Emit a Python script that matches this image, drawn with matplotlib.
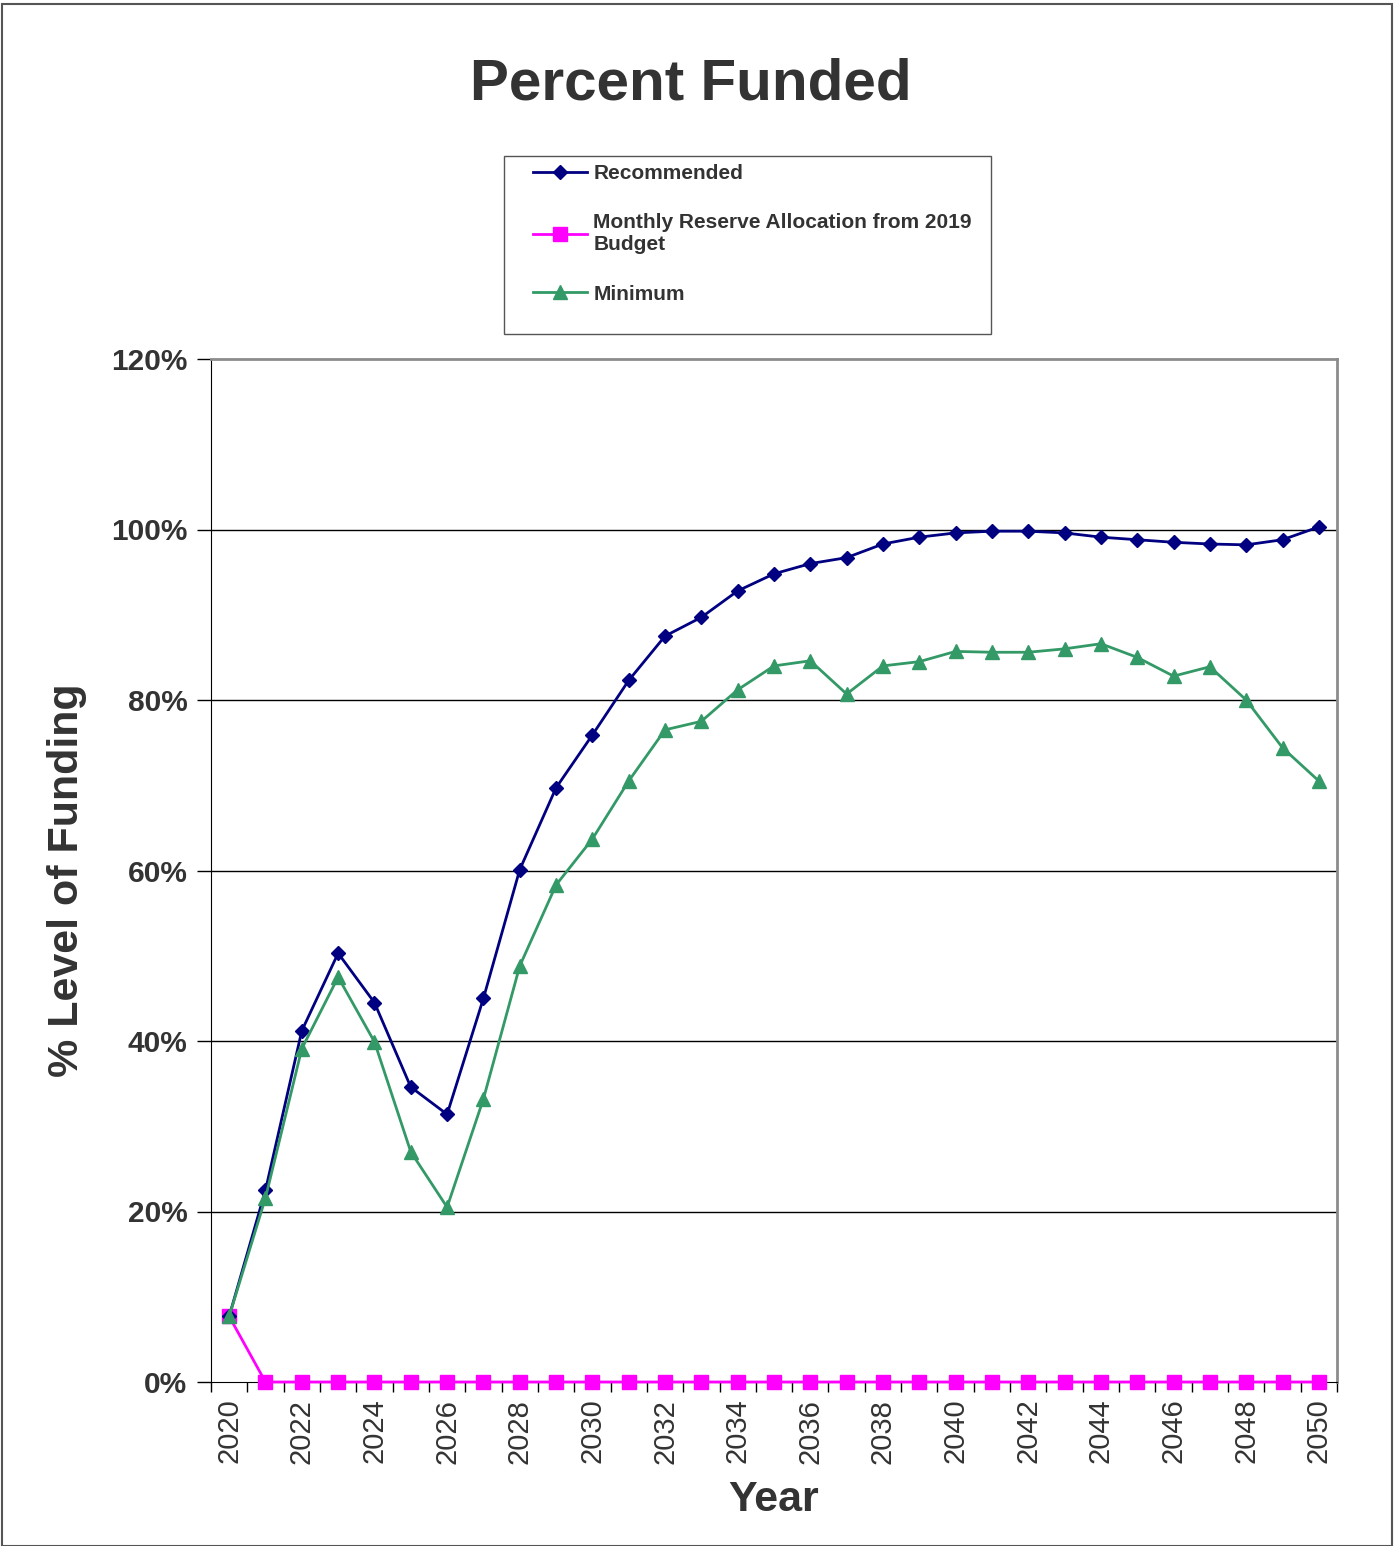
import matplotlib
matplotlib.use("Agg")
import matplotlib.pyplot as plt
from matplotlib.patches import Rectangle
import numpy as np

plt.rcParams['font.family'] = ['Liberation Sans', 'DejaVu Sans']

years = np.arange(2020, 2051)
recommended = [7.7, 22.5, 41.2, 50.3, 44.5, 34.6, 31.4, 45.0, 60.1, 69.7,
               75.9, 82.3, 87.5, 89.7, 92.8, 94.8, 96.0, 96.7, 98.3, 99.1,
               99.6, 99.8, 99.8, 99.6, 99.1, 98.8, 98.5, 98.3, 98.2, 98.8,
               100.3]
monthly = [7.7] + [0.0] * 30
minimum = [7.7, 21.6, 39.1, 47.5, 39.9, 27.0, 20.5, 33.2, 48.8, 58.3,
           63.7, 70.5, 76.5, 77.5, 81.2, 84.0, 84.6, 80.7, 84.0, 84.5,
           85.7, 85.6, 85.6, 86.0, 86.6, 85.0, 82.8, 83.9, 80.0, 74.4,
           70.5]
labels = ['Recommended', 'Monthly Reserve Allocation from 2019\nBudget', 'Minimum']

txt = '#333333'

fig = plt.figure(figsize=(13.94, 15.46), dpi=100)
ax = fig.add_axes([211/1394, 1 - 1382/1546, (1337 - 211)/1394, (1382 - 359)/1546])

l1, = ax.plot(years, recommended, color='#000080', lw=2, marker='D', ms=7,
              zorder=4, clip_on=False)
l2, = ax.plot(years, monthly, color='#FF00FF', lw=2, marker='s', ms=10.5,
              zorder=3, clip_on=False)
l3, = ax.plot(years, minimum, color='#339966', lw=2, marker='^', ms=10,
              zorder=5, clip_on=False)

ax.set_xlim(2019.5, 2050.5)
ax.set_ylim(0, 120)

# horizontal grid
for v in range(20, 120, 20):
    ax.axhline(v, color='black', lw=1, zorder=1)

ax.set_yticks(range(0, 121, 20))
ax.set_yticklabels([f'{v}%' for v in range(0, 121, 20)], fontsize=21.5,
                   fontweight='bold', color=txt)
ax.tick_params(axis='y', length=10, width=1, direction='out', pad=7)

ax.set_xticks(years[::2])
ax.set_xticklabels([str(y) for y in years[::2]], rotation=90, fontsize=21,
                   color=txt)
ax.set_xticks(np.arange(2019.5, 2051, 1), minor=True)
ax.tick_params(axis='x', which='major', length=0, pad=12)
ax.tick_params(axis='x', which='minor', length=7, width=1, direction='out')

ax.spines['left'].set_color('black')
ax.spines['bottom'].set_color('black')
ax.spines['top'].set_color('#8c8c8c')
ax.spines['right'].set_color('#8c8c8c')
ax.spines['top'].set_linewidth(2)
ax.spines['right'].set_linewidth(2)

ax.set_xlabel('Year', fontsize=31, fontweight='bold', color=txt, labelpad=12)
fig.text(67/1394, 1 - 880/1546, '% Level of Funding', rotation=90,
         fontsize=31, fontweight='bold', color=txt, ha='center', va='center')

fig.text(691/1394, 1 - 84/1546, 'Percent Funded', fontsize=42,
         fontweight='bold', color=txt, ha='center', va='center')

# legend box
fig.patches.append(Rectangle((504/1394, 1 - 334/1546), 487/1394, 178/1546,
                             transform=fig.transFigure, fill=False,
                             edgecolor='#555555', lw=1))
leg = fig.legend([l1, l2, l3], labels, loc='center left',
                 bbox_to_anchor=(514/1394, 1 - 234/1546), frameon=False,
                 prop={'size': 15, 'weight': 'bold'}, labelcolor=txt,
                 handlelength=2.6, handletextpad=0.3, labelspacing=1.45,
                 numpoints=1)

# outer frame
fig.patches.append(Rectangle((2/1394, 0), 1390/1394, 1 - 4/1546,
                             transform=fig.transFigure, fill=False,
                             edgecolor='#555555', lw=1.5))

fig.savefig('out.png', dpi=100)
